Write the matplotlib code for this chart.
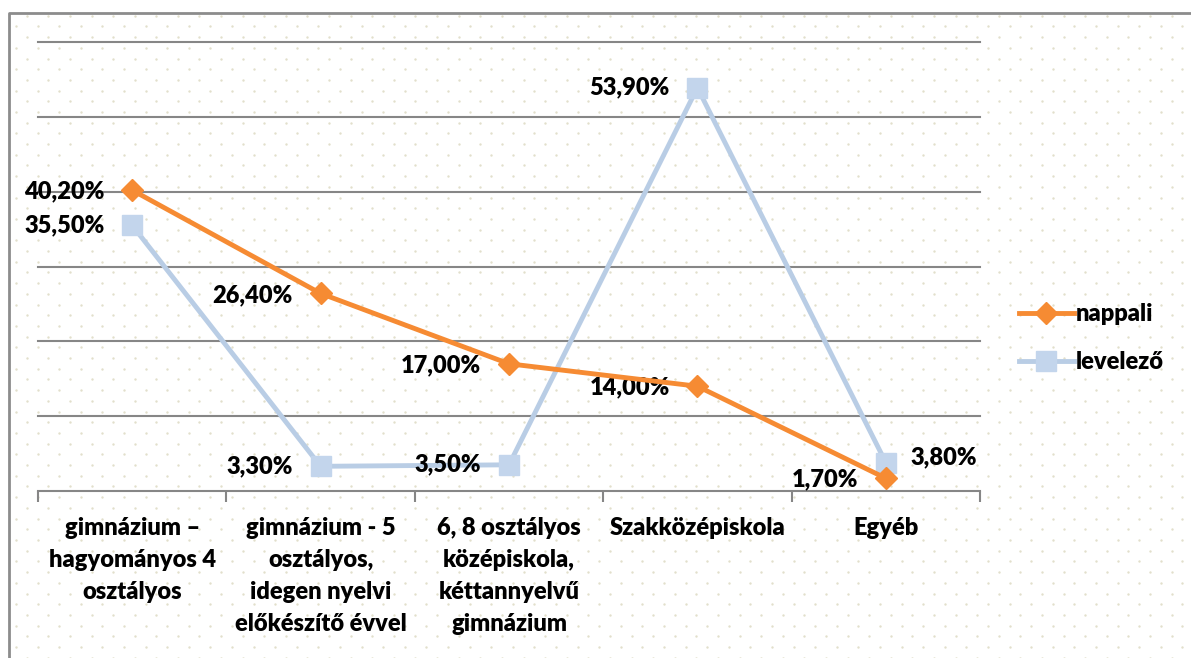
import numpy as np
import matplotlib.pyplot as plt

categories = [
    "gimnázium –\nhagyományos 4\nosztályos",
    "gimnázium - 5\nosztályos,\nidegen nyelvi\nelőkészítő évvel",
    "6, 8 osztályos\nközépiskola,\nkéttannyelvű\ngimnázium",
    "Szakközépiskola",
    "Egyéb",
]
nappali = [40.2, 26.4, 17.0, 14.0, 1.7]
levelezo = [35.5, 3.3, 3.5, 53.9, 3.8]
series_names = ["nappali", "levelező"]

ORANGE = "#f68b33"
BLUE = "#c3d5ec"
BLUE_LINE = "#b9cde5"
GRID = "#868686"
FS = 17
WT = "heavy"

plt.rcParams['font.family'] = ['Lato', 'DejaVu Sans']
plt.rcParams['font.weight'] = WT

W, H = 1191, 658
fig = plt.figure(figsize=(W / 100, H / 100), dpi=100)

# dotted background pattern + frame
bg = fig.add_axes([0, 0, 1, 1], zorder=-5)
bg.set_xlim(0, W)
bg.set_ylim(H, 0)
bg.axis("off")
xs, ys = [], []
for i, yy in enumerate(np.arange(15.7, H + 10, 10.7)):
    x0 = 26.7 if i % 2 == 0 else 16.0
    for xx in np.arange(x0, W + 10, 21.6):
        xs.append(xx)
        ys.append(yy)
bg.scatter(xs, ys, s=3, color="#e2dfcb", linewidths=0)
bg.plot([8.5, 8.5, W + 5], [H + 5, 12.5, 12.5], color="#8c8c8c", lw=2, solid_capstyle="butt")

ax = fig.add_axes([38 / W, 1 - 491 / H, (980 - 38) / W, (491 - 42) / H])
ax.patch.set_alpha(0)
x = np.arange(len(categories))
ax.set_xlim(-0.5, len(categories) - 0.5)
ax.set_ylim(0, 60)
ax.set_yticks(np.arange(10, 61, 10))
ax.yaxis.grid(True, color=GRID, lw=1.5)
for gl in ax.get_ygridlines():
    gl.set_clip_on(False)
ax.tick_params(axis="y", length=0, labelleft=False)
for s in ["left", "right", "top"]:
    ax.spines[s].set_visible(False)
ax.spines["bottom"].set_color(GRID)
ax.spines["bottom"].set_linewidth(1.5)
ax.set_xticks(np.arange(-0.5, len(categories), 1))
ax.tick_params(axis="x", which="major", length=8, width=1.5, color=GRID, labelbottom=False)
ax.set_xticks(x, minor=True)
ax.set_xticklabels(categories, minor=True, fontsize=FS, fontweight=WT, linespacing=1.55, va="top")
ax.tick_params(axis="x", which="minor", length=0, pad=19)
ax.set_axisbelow(True)

ax.plot(x, levelezo, color=BLUE_LINE, lw=3.5, marker="s", ms=14, mfc=BLUE, mec=BLUE,
        label=series_names[1], zorder=3)
ax.plot(x, nappali, color=ORANGE, lw=3.5, marker="D", ms=11, mfc=ORANGE, mec=ORANGE,
        label=series_names[0], zorder=4)

def fmt(v):
    return f"{v:.2f}%".replace(".", ",")

for xi, v in zip(x, nappali):
    ax.annotate(fmt(v), (xi, v), xytext=(-20, -1), textcoords="offset points",
                ha="right", va="center", fontsize=FS, fontweight=WT)
for xi, v in zip(x, levelezo):
    if xi == 4:
        ax.annotate(fmt(v), (xi, v), xytext=(18, 4), textcoords="offset points",
                    ha="left", va="center", fontsize=FS, fontweight=WT)
    else:
        ax.annotate(fmt(v), (xi, v), xytext=(-20, 0), textcoords="offset points",
                    ha="right", va="center", fontsize=FS, fontweight=WT)

handles, labels = ax.get_legend_handles_labels()
fig.legend(handles[::-1], labels[::-1], loc="center left", bbox_to_anchor=(998 / W, 1 - 338 / H),
           frameon=False, handlelength=2.3, handletextpad=0.1, labelspacing=1.1,
           prop={"weight": WT, "size": FS})

fig.savefig("out.png", dpi=100)
